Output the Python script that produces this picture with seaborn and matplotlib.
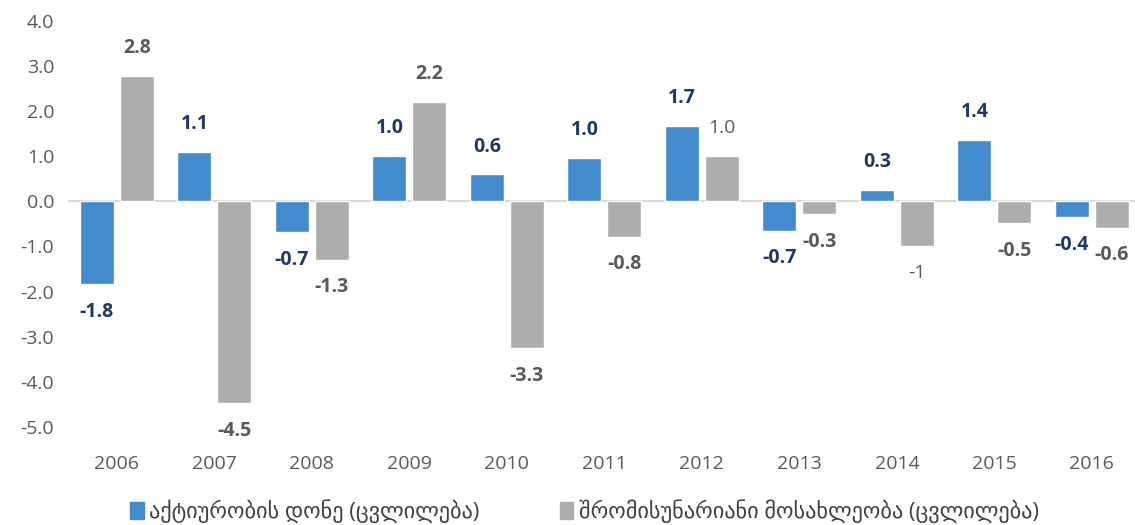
import pandas as pd
import matplotlib.pyplot as plt
import seaborn as sns

years = ["2006", "2007", "2008", "2009", "2010", "2011", "2012", "2013", "2014", "2015", "2016"]
activity = [-1.83, 1.1, -0.69, 1.0, 0.6, 0.97, 1.67, -0.65, 0.25, 1.37, -0.35]
employment = [2.79, -4.48, -1.29, 2.2, -3.26, -0.78, 1.0, -0.29, -0.98, -0.49, -0.58]
activity_labels = ["-1.8", "1.1", "-0.7", "1.0", "0.6", "1.0", "1.7", "-0.7", "0.3", "1.4", "-0.4"]
employment_labels = ["2.8", "-4.5", "-1.3", "2.2", "-3.3", "-0.8", "1.0", "-0.3", "-1", "-0.5", "-0.6"]
series = ["აქტიურობის დონე (ცვლილება)", "შრომისუნარიანი მოსახლეობა (ცვლილება)"]

df = pd.DataFrame({
    "year": years * 2,
    "value": activity + employment,
    "series": [series[0]] * len(years) + [series[1]] * len(years),
})

sns.set_style("white")
plt.rcParams['font.family'] = ['Open Sans', 'DejaVu Sans']

fig = plt.figure(figsize=(11.35, 5.25), dpi=100)
ax = fig.add_axes([0.06, 0.187, 0.945, 0.773])

palette = ["#428BCE", "#ADADAD"]
sns.barplot(data=df, x="year", y="value", hue="series", palette=palette,
            width=0.82, gap=0.15, saturation=1, ax=ax)

ax.set_ylim(-5, 4)
ax.set_yticks([4, 3, 2, 1, 0, -1, -2, -3, -4, -5])
ax.set_yticklabels([f"{v:.1f}" for v in [4, 3, 2, 1, 0, -1, -2, -3, -4, -5]])
ax.set_xlabel("")
ax.set_ylabel("")
ax.tick_params(axis="y", colors="#595959", labelsize=14, length=0, pad=10)
ax.tick_params(axis="x", colors="#595959", labelsize=14, length=0, pad=20)
for s in ax.spines.values():
    s.set_visible(False)
ax.axhline(0, color="#D9D9D9", lw=1.5, zorder=0)

# data labels
label_colors = ["#203864", "#595959"]
for cont, labels, col in zip(ax.containers, [activity_labels, employment_labels], label_colors):
    for bar, lab in zip(cont, labels):
        h = bar.get_height()
        x = bar.get_x() + bar.get_width() / 2
        off = 20 if h >= 0 else -20
        weight = "bold"
        if col == "#595959" and lab in ("1.0", "-1"):
            weight = "medium"
        ax.annotate(lab, (x, h), xytext=(0, off), textcoords="offset points",
                    ha="center", va="center", fontsize=14, fontweight=weight, color=col)

ax.legend_.remove()
handles = [plt.Rectangle((0, 0), 1, 1, color=c) for c in palette]
fig.legend(handles, series, loc="lower center", bbox_to_anchor=(0.515, -0.035), ncol=2,
           frameon=False, fontsize=16, handlelength=0.6, handleheight=0.8,
           handletextpad=0.25, columnspacing=3.6, labelcolor="#404040")

fig.savefig("out.png", dpi=100)
